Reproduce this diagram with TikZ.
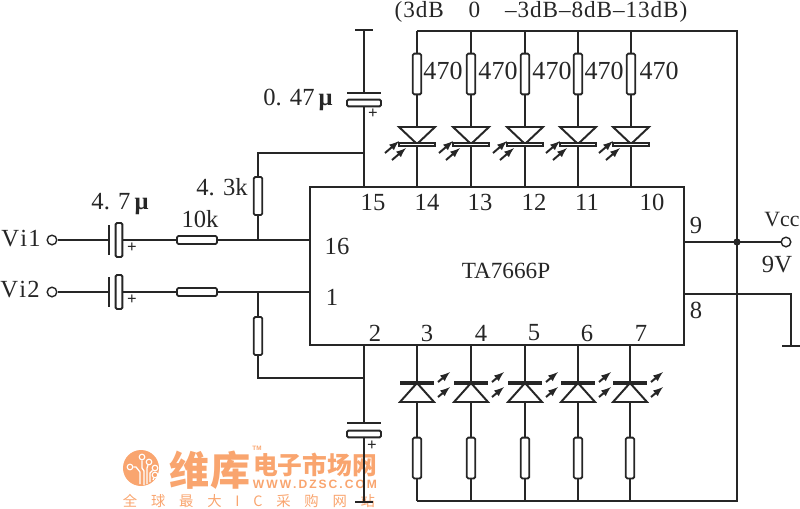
\documentclass[tikz,border=0pt]{standalone}
\usepackage{fontspec}
\setmainfont{Liberation Serif}
\newfontfamily\cjk{Noto Sans CJK SC}
\newfontfamily\wmsans{Liberation Sans}
\newfontfamily\spaced[LetterSpace=4]{Liberation Serif}
\definecolor{ink}{HTML}{262626}
\definecolor{wm}{HTML}{F9A56F}
\tikzset{
  wire/.style={draw=ink, line width=1.5pt},
  lab/.style={inner sep=0pt, text=ink, font=\fontsize{17.5}{19}\selectfont},
  resv/.style={rectangle, draw=ink, fill=white, line width=1.3pt, rounded corners=1pt, inner sep=0pt, minimum width=.21cm, minimum height=1.02cm},
  resh/.style={resv, minimum width=1cm, minimum height=.2cm},
  platev/.style={rectangle, draw=ink, fill=white, line width=1.3pt, rounded corners=1pt, inner sep=0pt, minimum width=.17cm, minimum height=.85cm},
  plateh/.style={platev, minimum width=.85cm, minimum height=.17cm},
  barv/.style={rectangle, fill=ink, inner sep=0pt, minimum width=.06cm, minimum height=.75cm},
  barh/.style={barv, minimum width=.85cm, minimum height=.06cm},
  capend/.style={barh, minimum width=.45cm},
  term/.style={circle, draw=ink, fill=white, line width=1pt, inner sep=0pt, minimum size=.24cm},
  plusmark/.style={inner sep=0pt, text=ink, font=\bfseries\fontsize{12}{12}\selectfont},
  dotj/.style={circle, fill=ink, inner sep=0pt, minimum size=.18cm},
  ledray/.style={-latex, draw=ink, line width=1.4pt},
  logotrace/.style={draw=white, line width=.9pt},
  logoring/.style={circle, draw=white, line width=.8pt, fill=wm, inner sep=0pt, minimum size=.14cm}
}
\begin{document}
\begin{tikzpicture}[x=.025cm, y=-.025cm]
\useasboundingbox (0,0) rectangle (800,508);
% watermark
\node[circle, fill=wm, inner sep=0pt, minimum size=.9cm] (logo) at (141,468) {};
\node[logoring] (l1) at (130,467) {};
\node[logoring] (l2) at (142,457) {};
\node[logoring] (l3) at (149,462) {};
\node[logoring] (l4) at (155,468) {};
\node[logoring] (l5) at (155,475) {};
\draw[logotrace] (l1)--(136,467)--(140,472)--(140,484);
\draw[logotrace] (l2)--(142,468)--(144,471)--(144,485);
\draw[logotrace] (l3)--(147,468)--(147,484);
\draw[logotrace] (l4)--(150,473)--(150,482);
\draw[logotrace] (l5)--(153,480);
\node[inner sep=0pt, text=wm, font=\cjk\bfseries\fontsize{28.5}{30}\selectfont] (wm1) at (210,470) {维库};
\node[inner sep=0pt, text=wm, font=\cjk\bfseries\fontsize{17.6}{19}\selectfont] (wm2) at (315,465) {电子市场网};
\node[inner sep=0pt, text=wm, font=\wmsans\bfseries\fontsize{8.6}{9}\selectfont] (wm3) at (315,484) {\makebox[3.1cm][s]{W\hfill W\hfill W\hfill .\hfill D\hfill Z\hfill S\hfill C\hfill .\hfill C\hfill O\hfill M}};
\node[inner sep=0pt, text=wm, font=\cjk\fontsize{10.2}{11}\selectfont] (wm4) at (249,501) {\makebox[6.3cm][s]{全\hfill 球\hfill 最\hfill 大\hfill I\hfill C\hfill 采\hfill 购\hfill 网\hfill 站}};
\node[inner sep=0pt, text=wm, font=\wmsans\bfseries\fontsize{4.5}{5}\selectfont] (wm5) at (257,448) {TM};
% chip
\node[rectangle, draw=ink, line width=1.5pt, inner sep=0pt, minimum width=9.35cm, minimum height=3.93cm] (ic) at (497,266) {};
\node[lab, font=\fontsize{16.5}{18}\selectfont] (ictxt) at (506,271) {TA7666P};
% top leds
\coordinate (railtl) at (417,31);
\coordinate (railtr) at (737,31);
\coordinate (railbr) at (737,501);
\coordinate (railbl) at (417,501);
\draw[wire] (railtl)--(railtr)--(railbr)--(railbl);
\foreach \i/\x/\lx in {1/417/443,2/471/498,3/525/552,4/578/604,5/631/659}{
  \coordinate (tt\i) at (\x,31);
  \coordinate (ta\i) at (\x,127);
  \coordinate (tk\i) at (\x,144);
  \coordinate (tp\i) at (\x,187);
  \node[resv] (rt\i) at (\x,74) {};
  \node[lab, font=\fontsize{18.5}{20}\selectfont] (lt\i) at (\lx,71) {470};
  \draw[wire] (tt\i)--(rt\i);
  \draw[wire] (rt\i)--(ta\i);
  \draw[wire] (tk\i)--(tp\i);
  \draw[draw=ink, line width=1.4pt] (\x-18,127)--(\x+18,127)--(tk\i)--cycle;
  \draw[draw=ink, fill=white, line width=1pt] (\x-18,143)rectangle(\x+18,146);
  \draw[ledray] (\x-32,153)--(\x-18,141);
  \draw[ledray] (\x-25,160)--(\x-11,148);
}
% bottom leds
\foreach \i/\x in {1/417,2/471,3/525,4/578,5/630}{
  \coordinate (bp\i) at (\x,345);
  \coordinate (bk\i) at (\x,383);
  \coordinate (ba\i) at (\x,402);
  \coordinate (bb\i) at (\x,501);
  \node[resv] (rb\i) at (\x,458) {};
  \draw[wire] (bp\i)--(bk\i);
  \draw[wire] (ba\i)--(rb\i);
  \draw[wire] (rb\i)--(bb\i);
  \draw[draw=ink, line width=1.4pt] (\x-17,402)--(\x+17,402)--(bk\i)--cycle;
  \draw[draw=ink, line width=2.4pt] (\x-17,383)--(\x+17,383);
  \draw[ledray] (\x+21,382)--(\x+33,372);
  \draw[ledray] (\x+21,397)--(\x+33,387);
}
% upper capacitor and bias
\node[capend] (ce1) at (364,30) {};
\node[barh] (cb1) at (364,93) {};
\node[plateh] (cp1) at (364,103) {};
\node[plusmark] (pl1) at (373,114) {+};
\coordinate (p15) at (364,187);
\coordinate (j15) at (364,153);
\coordinate (k15) at (258,153);
\node[resv, minimum height=.95cm] (r43) at (258,196) {};
\coordinate (j16) at (258,240);
\draw[wire] (ce1)--(cb1);
\draw[wire] (cp1)--(p15);
\draw[wire] (j15)--(k15)--(r43);
\draw[wire] (r43)--(j16);
% lower capacitor and bias
\node[barh] (cb2) at (364,423) {};
\node[plateh] (cp2) at (364,434) {};
\node[plusmark] (pl2) at (372,446) {+};
\node[capend] (ce2) at (364,502) {};
\coordinate (p2) at (364,345);
\coordinate (j2) at (364,378);
\coordinate (k2) at (258,378);
\node[resv, minimum height=.95cm] (r2) at (258,336) {};
\coordinate (j1) at (258,292);
\draw[wire] (p2)--(cb2);
\draw[wire] (cp2)--(ce2);
\draw[wire] (j2)--(k2)--(r2);
\draw[wire] (r2)--(j1);
% inputs
\node[term] (vi1) at (52,240) {};
\node[barv] (ca1) at (109,240) {};
\node[platev] (cv1) at (119,240) {};
\node[plusmark] (pl3) at (132,248) {+};
\node[resh] (rh1) at (197,240) {};
\coordinate (in16) at (310,240);
\draw[wire] (vi1)--(ca1);
\draw[wire] (cv1)--(rh1);
\draw[wire] (rh1)--(in16);
\node[term] (vi2) at (52,292) {};
\node[barv] (ca2) at (109,292) {};
\node[platev] (cv2) at (119,292) {};
\node[plusmark] (pl4) at (132,300) {+};
\node[resh] (rh2) at (197,292) {};
\coordinate (in1) at (310,292);
\draw[wire] (vi2)--(ca2);
\draw[wire] (cv2)--(rh2);
\draw[wire] (rh2)--(in1);
% supply and pin 8
\coordinate (p9) at (684,242);
\coordinate (p8) at (684,294);
\coordinate (g8) at (791,294);
\node[term] (vcc) at (786,242) {};
\node[dotj] (jv) at (737,242) {};
\node[capend] (gnd) at (791,346) {};
\draw[wire] (p9)--(vcc);
\draw[wire] (p8)--(g8)--(gnd);
% labels
\foreach \t/\x/\y in {15/373/202,14/427/202,13/480/202,12/534/202,11/587/202,10/652/202,9/696/225,8/696/310,16/337/246,1/332/297,2/375/333,3/427/333,4/481/333,5/534/333,6/587/333,7/641/333}
  \node[lab] (pin\t) at (\x,\y) {\t};
\node[lab] (lvi1) at (21,239) {V\hspace{.03cm}i\hspace{.03cm}1};
\node[lab] (lvi2) at (20,290) {V\hspace{.03cm}i\hspace{.03cm}2};
\node[lab] (lc1) at (120,204) {4. 7\,\textbf{μ}};
\node[lab] (lr1) at (200,219) {10k};
\node[lab] (lr2) at (222,187) {4. 3k};
\node[lab] (lc2) at (298,100) {0. 47\,\textbf{μ}};
\node[lab, font=\fontsize{15.5}{17}\selectfont] (lvcc) at (782,220) {Vcc};
\node[lab] (l9v) at (777,265) {9V};
\node[lab, font=\spaced\fontsize{16.5}{18}\selectfont] (ldb) at (541,11.5) {(3dB\hspace{.62cm}0\hspace{.62cm}–3dB–8dB–13dB)};
\end{tikzpicture}
\end{document}
